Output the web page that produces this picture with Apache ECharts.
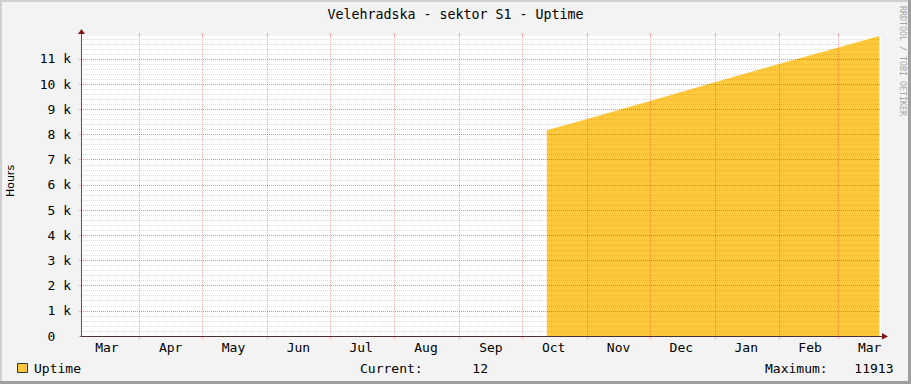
<!DOCTYPE html>
<html><head><meta charset="utf-8">
<script src="https://cdn.jsdelivr.net/npm/echarts@6/dist/echarts.min.js"></script>
<style>html,body{margin:0;padding:0;background:#F3F3F3;}#c{width:911px;height:384px;}</style>
</head><body><div id="c"></div>
<script>
// ---- data ----
const titleText = 'Velehradska - sektor S1 - Uptime';
const yAxisName = 'Hours';
const seriesName = 'Uptime';
const watermark = 'RRDTOOL / TOBI OETIKER';
const xStart = '2012-03-04T03:20:00';
const xEnd = '2013-03-21T09:40:00';
const yMax = 11913;
const uptimeDates = ['2012-10-12T17:00:00','2012-11-01T00:00:00','2012-12-01T00:00:00','2013-01-01T00:00:00','2013-02-01T00:00:00','2013-03-01T00:00:00','2013-03-20T14:00:00'];
const uptimeValues = [8170, 8620, 9330, 10080, 10810, 11460, 11913];
const monthStarts = ['2012-04-01T00:00:00','2012-05-01T00:00:00','2012-06-01T00:00:00','2012-07-01T00:00:00','2012-08-01T00:00:00','2012-09-01T00:00:00','2012-10-01T00:00:00','2012-11-01T00:00:00','2012-12-01T00:00:00','2013-01-01T00:00:00','2013-02-01T00:00:00','2013-03-01T00:00:00'];
const monthLabelDates = ['2012-03-16T12:00:00','2012-04-16T00:00:00','2012-05-16T00:00:00','2012-06-16T00:00:00','2012-07-16T00:00:00','2012-08-16T00:00:00','2012-09-16T00:00:00','2012-10-16T00:00:00','2012-11-16T00:00:00','2012-12-16T00:00:00','2013-01-16T00:00:00','2013-02-15T12:00:00','2013-03-16T00:00:00'];
const monthLabels = ['Mar','Apr','May','Jun','Jul','Aug','Sep','Oct','Nov','Dec','Jan','Feb','Mar'];
const currentValue = 12;
const maximumValue = 11913;

// ---- chart ----
const ts = s => new Date(s).getTime();
const xMin = ts(xStart), xMax = ts(xEnd);
const labelTs = monthLabelDates.map(ts);
const mono = 'DejaVu Sans Mono';
const majorColor = 'rgba(230,0,0,0.32)';
const minorColor = 'rgba(128,128,128,0.28)';
const fillColor = '#FFC73B';

const chart = echarts.init(document.getElementById('c'), null, {renderer: 'svg'});

chart.setOption({
  backgroundColor: '#F3F3F3',
  animation: false,
  grid: {left: 81, top: 36, width: 800, height: 300, show: true, backgroundColor: '#FFFFFF', borderWidth: 0},
  xAxis: [
    {
      type: 'value', min: xMin, max: xMax, position: 'bottom', z: 6, scale: true,
      axisLine: {show: true, onZero: false, lineStyle: {color: '#4a3232', width: 1}},
      axisTick: {show: true, customValues: monthStarts.map(ts), length: 3, lineStyle: {color: majorColor}},
      axisLabel: {
        show: true, customValues: labelTs, hideOverlap: false,
        formatter: v => { const i = labelTs.indexOf(v); return i >= 0 ? monthLabels[i] : ''; },
        fontFamily: mono, fontSize: 13, color: '#000', margin: 5
      },
      splitLine: {show: true, lineStyle: {color: majorColor, type: [1, 1], width: 1}}
    },
    {
      type: 'value', min: xMin, max: xMax, position: 'top', z: 6, scale: true,
      axisLine: {show: false, onZero: false},
      axisTick: {show: true, customValues: monthStarts.map(ts), length: 3, lineStyle: {color: majorColor}},
      axisLabel: {show: false},
      splitLine: {show: false}
    }
  ],
  yAxis: [
    {
      type: 'value', min: 0, max: yMax, interval: 1000, position: 'left', z: 5,
      axisLine: {show: true, onZero: false, lineStyle: {color: '#555555'}},
      axisTick: {show: true, length: 2, lineStyle: {color: majorColor}},
      axisLabel: {
        showMaxLabel: false,
        formatter: v => (v % 1000 !== 0) ? '' : (v === 0 ? '0\u00a0\u00a0' : (v / 1000) + ' k'),
        fontFamily: mono, fontSize: 13, color: '#000', margin: 10
      },
      splitLine: {show: true, showMaxLine: false, lineStyle: {color: majorColor, type: [1, 1], width: 1}}
    },
    {
      type: 'value', min: 0, max: yMax, interval: 200, position: 'left', z: 4,
      axisLine: {show: false, onZero: false}, axisTick: {show: false}, axisLabel: {show: false},
      splitLine: {show: true, showMaxLine: false, lineStyle: {color: minorColor, type: [1, 1], width: 1}}
    }
  ],
  series: [{
    type: 'line', name: seriesName, xAxisIndex: 0, yAxisIndex: 0, z: 2, silent: true,
    data: uptimeDates.map((d, i) => [ts(d), uptimeValues[i]]),
    symbol: 'none', showSymbol: false,
    lineStyle: {width: 0},
    areaStyle: {color: fillColor, opacity: 1}
  }]
});

const x0 = chart.convertToPixel({xAxisIndex: 0}, xMin);
const x1 = chart.convertToPixel({xAxisIndex: 0}, xMax);
const yTop = chart.convertToPixel({yAxisIndex: 0}, yMax);
const yBot = chart.convertToPixel({yAxisIndex: 0}, 0);
const arrowColor = '#801414';
const txt = (text, x, y, align) => ({type: 'text', x: x, y: y, silent: true,
  style: {text: text, fontFamily: mono, fontSize: 13, fill: '#000', textAlign: align, textVerticalAlign: 'middle'}});

chart.setOption({
  graphic: [
    {type: 'rect', shape: {x: 0, y: 0, width: 911, height: 2}, style: {fill: '#CFCFCF'}, silent: true},
    {type: 'rect', shape: {x: 0, y: 0, width: 2, height: 384}, style: {fill: '#CFCFCF'}, silent: true},
    {type: 'rect', shape: {x: 0, y: 381, width: 911, height: 3}, style: {fill: '#9E9E9E'}, silent: true},
    {type: 'rect', shape: {x: 908, y: 0, width: 3, height: 384}, style: {fill: '#9E9E9E'}, silent: true},
    {type: 'text', x: 455.5, y: 14, silent: true,
      style: {text: titleText, fontFamily: mono, fontSize: 13.3, fill: '#000', textAlign: 'center', textVerticalAlign: 'middle'}},
    {type: 'text', x: 10, y: 181, rotation: Math.PI / 2, silent: true,
      style: {text: yAxisName, fontFamily: 'DejaVu Sans', fontSize: 11, fill: '#000', textAlign: 'center', textVerticalAlign: 'middle'}},
    {type: 'text', x: 903, y: 61, rotation: -Math.PI / 2, silent: true,
      style: {text: watermark, fontFamily: mono, fontSize: 8.3, fill: '#A5A5A5', textAlign: 'center', textVerticalAlign: 'middle'}},
    {type: 'rect', shape: {x: 17.5, y: 363.5, width: 10, height: 9}, style: {fill: fillColor, stroke: '#333', lineWidth: 1}, silent: true},
    txt(seriesName, 34, 368.5, 'left'),
    txt('Current:', 360, 368.5, 'left'),
    txt(String(currentValue), 488, 368.5, 'right'),
    txt('Maximum:', 765, 368.5, 'left'),
    txt(String(maximumValue), 893.5, 368.5, 'right'),
    {type: 'line', z: 10, silent: true, shape: {x1: Math.round(x0) + 0.5, y1: yTop, x2: Math.round(x0) + 0.5, y2: yTop - 2}, style: {stroke: '#555555', lineWidth: 1}},
    {type: 'polygon', z: 10, silent: true, shape: {points: [[x0 - 3, yTop - 2], [x0 + 4, yTop - 2], [x0 + 0.5, yTop - 7]]}, style: {fill: arrowColor}},
    {type: 'line', z: 10, silent: true, shape: {x1: x1, y1: Math.round(yBot) + 0.5, x2: x1 + 1, y2: Math.round(yBot) + 0.5}, style: {stroke: '#4a3232', lineWidth: 1}},
    {type: 'polygon', z: 10, silent: true, shape: {points: [[x1 + 1, yBot - 3], [x1 + 1, yBot + 3.5], [x1 + 7, yBot + 0.5]]}, style: {fill: arrowColor}}
  ]
});
</script>
</body></html>
